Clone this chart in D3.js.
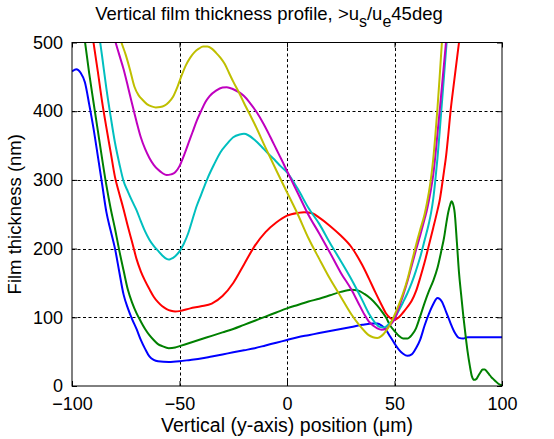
<!DOCTYPE html>
<html>
<head>
<meta charset="utf-8">
<script src="https://cdn.jsdelivr.net/npm/d3@7"></script>
<style>
  html, body { margin: 0; padding: 0; background: #fff; }
  svg { display: block; }
  text { font-family: Arial, "Liberation Sans", sans-serif; fill: #000; }
</style>
</head>
<body>
<svg id="chart" width="554" height="439"></svg>
<script>
// ---- data ----
const xTicks = [-100, -50, 0, 50, 100];
const yTicks = [0, 100, 200, 300, 400, 500];

const blueX = [-100,-98,-96,-94,-92,-90,-88,-86,-84,-82,-80,-78,-76,-74,-72,-70,-68,-66,-64,-62,-60,-55,-50,-45,-40,-35,-30,-25,-20,-15,-10,-5,0,5,10,15,20,25,30,35,40,42,44,46,48,50,52,54,56,58,60,62,64,66,68,70,72,74,76,78,80,82,84,90,100];
const blueY = [458,461,456,442,410,375,335,294,253,226,200,166,133,113,97,83,67,54,43,38,36,35,36,38,40,43,46,49,52,55,59,63,67,71,74,77,80,83,86,89,91,91,88,82,72,62,53,47,44,46,55,68,88,105,119,128,123,108,92,78,70,69,71,71,71];

const greenX = [-96,-94,-92,-90,-88,-86,-84,-82,-80,-78,-76,-74,-72,-70,-68,-66,-64,-62,-60,-58,-55,-52,-50,-45,-40,-35,-30,-25,-20,-15,-10,-5,0,5,10,15,20,25,30,33,36,39,42,44,46,48,50,52,54,56,58,60,62,64,66,68,70,72,73,74,75,76,76.5,77,78,79,80,81,82,83,84,85,86,87,88,89,90,91,92,93,94,95,96,97,98,99,100];
const greenY = [545,502,455,413,372,331,292,258,229,197,168,140,121,106,94,83,74,67,61,58,55,56,58,63,68,73,78,83,89,95,101,107,113,118,123,127,132,137,140,139,134,127,117,109,100,88,80,73,69,69,74,84,102,121,138,153,172,200,215,235,253,265,269,267,252,210,165,133,102,75,50,30,14,9,10,15,20,24,24,21,17,13,10,7,4,2,1];

const redX = [-90,-88,-86,-84,-82,-80,-78,-76,-74,-72,-70,-68,-66,-64,-62,-60,-58,-56,-54,-52,-50,-45,-40,-35,-30,-25,-20,-15,-10,-5,0,5,8,12,15,20,25,30,35,38,41,44,46,48,50,52,54,56,58,60,62,64,66,68,70,71,72,73,74,75,76,77,78,79,80,81];
const redY = [500,458,414,376,340,304,280,257,232,209,185,167,153,141,130,122,116,112,109.5,108.5,109,113,116,120,131,150,177,204,224,238,248,252,253,251,245,233,219,202,176,157,137,118,106,99,96,100,107,115,124,138,158,180,205,230,256,270,290,312,335,365,398,425,450,475,500,525];

const cyanX = [-88,-86,-84,-82,-80,-78,-76,-74,-72,-70,-68,-66,-64,-62,-60,-58,-56,-55,-54,-52,-50,-48,-46,-44,-42,-40,-37,-34,-31,-28,-25,-22,-20,-18,-15,-12,-9,-6,-3,0,5,10,15,20,25,30,35,38,41,43,45,47,49,50,52,54,56,58,60,62,64,66,67,68,69,70,71,72,73,74,75];
const cyanY = [525,480,433,392,354,324,298,283,269,256,240,225,213,204,197,190,185,184,185,189,196,207,222,242,262,278,302,322,340,352,362,366,367,365,358,349,339,330,320,311,287,259,236,208,182,155,125,106,92,86,85,89,95,99,110,122,135,150,168,188,212,237,252,272,300,332,370,410,450,490,530];

const magentaX = [-80,-78,-76,-74,-72,-70,-68,-66,-64,-62,-60,-58,-56,-54,-52,-50,-48,-46,-44,-42,-40,-38,-36,-33,-30,-28,-25,-22,-20,-17,-14,-11,-8,-5,-2,0,2,5,10,15,20,25,30,33,36,38,40,42,44,46,48,50,52,54,56,58,60,62,64,65,66,67,68,69,70,71,72,73,74,75];
const magentaY = [503,482,461,436,410,385,362,345,332,322,315,310,307,308,311,320,335,352,369,386,400,413,422,430,434.5,435,432,427,422,411,398,382,364,345,326,313,300,281,249,222,194,165,140,122,104,94,88,84,82,83,89,97,114,132,152,175,198,220,243,255,270,287,307,335,368,400,434,468,502,536];

const yellowX = [-78,-77,-75,-73,-71,-69,-67,-65,-63,-61,-59,-57,-55,-53,-51,-49,-47,-45,-43,-41,-39,-37,-35,-33,-31,-29,-27,-25,-22,-20,-15,-10,-5,0,5,10,15,20,25,30,33,36,38,40,42,44,46,48,50,52,54,56,58,60,62,64,65,66,67,68,69,70,71,72,73];
const yellowY = [510,500,482,460,436,423,416,410,407,405.5,406,408,413,421,435,452,467,478,486,491,494,494,491,485,478,469,456,443,425,412,381,347,314,282,250,215,185,156,130,104,91,80,74,71,70,73,80,90,103,118,135,155,180,205,228,250,265,282,303,330,365,405,450,498,545];

const seriesList = [
  { name: "blue",    xs: blueX,    ys: blueY,    color: "#0000FF" },
  { name: "green",   xs: greenX,   ys: greenY,   color: "#008000" },
  { name: "red",     xs: redX,     ys: redY,     color: "#FF0000" },
  { name: "cyan",    xs: cyanX,    ys: cyanY,    color: "#00BFBF" },
  { name: "magenta", xs: magentaX, ys: magentaY, color: "#BF00BF" },
  { name: "yellow",  xs: yellowX,  ys: yellowY,  color: "#BFBF00" }
];

// ---- layout ----
const svg = d3.select("#chart");
const L = 72, R = 502, T = 42.5, B = 386;
const x = d3.scaleLinear().domain([-100, 100]).range([L, R]);
const y = d3.scaleLinear().domain([0, 500]).range([B, T]);

// grid
const grid = svg.append("g");
grid.selectAll("line.gx").data(xTicks.slice(1, -1)).enter().append("line")
  .attr("x1", d => Math.round(x(d)) + 0.5).attr("x2", d => Math.round(x(d)) + 0.5)
  .attr("y1", T).attr("y2", B)
  .attr("stroke", "#000").attr("stroke-width", 1).attr("stroke-dasharray", "3,2.5");
grid.selectAll("line.gy").data(yTicks.slice(1, -1)).enter().append("line")
  .attr("y1", d => Math.round(y(d)) + 0.5).attr("y2", d => Math.round(y(d)) + 0.5)
  .attr("x1", L).attr("x2", R)
  .attr("stroke", "#000").attr("stroke-width", 1).attr("stroke-dasharray", "3,2.5");

// clip
svg.append("clipPath").attr("id", "plotclip").append("rect")
  .attr("x", L).attr("y", T).attr("width", R - L).attr("height", B - T);

const line = d3.line()
  .x(d => x(d[0])).y(d => y(d[1]))
  .curve(d3.curveMonotoneX);

const plot = svg.append("g").attr("clip-path", "url(#plotclip)");
seriesList.forEach(s => {
  const pts = s.xs.map((xv, i) => [xv, s.ys[i]]);
  plot.append("path").datum(pts)
    .attr("d", line)
    .attr("fill", "none")
    .attr("stroke", s.color)
    .attr("stroke-width", 2)
    .attr("stroke-linejoin", "round");
});

// axes (MATLAB-like, ticks inside, box)
svg.append("g").attr("transform", `translate(0,${B})`)
  .call(d3.axisBottom(x).tickValues(xTicks).tickSizeInner(-5).tickSizeOuter(0).tickPadding(11));
svg.append("g").attr("transform", `translate(${L},0)`)
  .call(d3.axisLeft(y).tickValues(yTicks).tickSizeInner(-5).tickSizeOuter(0).tickPadding(9));
svg.append("g").attr("transform", `translate(0,${T})`)
  .call(d3.axisTop(x).tickValues(xTicks).tickSizeInner(-5).tickSizeOuter(0).tickFormat(""));
svg.append("g").attr("transform", `translate(${R},0)`)
  .call(d3.axisRight(y).tickValues(yTicks).tickSizeInner(-5).tickSizeOuter(0).tickFormat(""));
svg.selectAll(".domain").remove();
svg.selectAll(".tick line").attr("stroke", "#000");
svg.selectAll(".tick text").style("font-size", "18px")
  .style("font-family", "Arial, 'Liberation Sans', sans-serif").attr("fill", "#000");

svg.append("rect").attr("x", L).attr("y", T).attr("width", R - L).attr("height", B - T)
  .attr("fill", "none").attr("stroke", "#000").attr("stroke-width", 1);

// title
const title = svg.append("text").attr("x", (L + R) / 2 - 18).attr("y", 20)
  .attr("text-anchor", "middle").style("font-size", "18.5px");
title.append("tspan").text("Vertical film thickness profile, >u");
title.append("tspan").attr("dy", 7).style("font-size", "16px").text("s");
title.append("tspan").attr("dy", -7).text("/u");
title.append("tspan").attr("dy", 7).style("font-size", "16px").text("e");
title.append("tspan").attr("dy", -7).text("45deg");

// axis labels
svg.append("text").attr("x", (L + R) / 2).attr("y", 432)
  .attr("text-anchor", "middle").style("font-size", "19.5px")
  .text("Vertical (y-axis) position (μm)");
svg.append("text").attr("transform", `translate(21,${(T + B) / 2}) rotate(-90)`)
  .attr("text-anchor", "middle").style("font-size", "18.5px")
  .text("Film thickness (nm)");
</script>
</body>
</html>
